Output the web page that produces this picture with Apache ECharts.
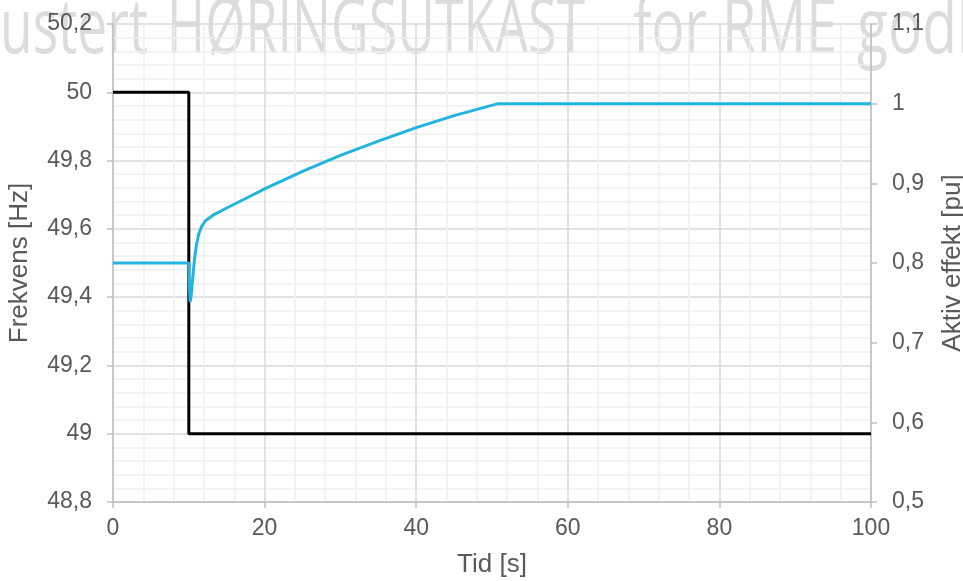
<!DOCTYPE html>
<html>
<head>
<meta charset="utf-8">
<script src="https://cdn.jsdelivr.net/npm/echarts@6/dist/echarts.min.js"></script>
<style>
html,body{margin:0;padding:0;background:#fff;}
#chart{width:963px;height:581px;}
</style>
</head>
<body>
<div id="chart"></div>
<script>
// ---- data ----
const timeTicks = [0, 20, 40, 60, 80, 100];
const freqTicks = [48.8, 49.0, 49.2, 49.4, 49.6, 49.8, 50.0, 50.2];
const powerTicks = [0.5, 0.6, 0.7, 0.8, 0.9, 1.0, 1.1];

const freqTime = [0, 10, 10, 100];
const freqValues = [50, 50, 49, 49];

const powerTime = [0, 10, 10.08, 10.17, 10.3, 10.5, 10.75, 11.0, 11.3, 11.7, 12.2, 13.2, 15, 17.5, 20, 25, 30, 35, 40, 45, 50.8, 100];
const powerValues = [0.8, 0.8, 0.77, 0.751, 0.758, 0.779, 0.805, 0.822, 0.836, 0.846, 0.853, 0.86, 0.869, 0.881, 0.893, 0.915, 0.935, 0.953, 0.97, 0.985, 1.0, 1.0];

const watermarkWords = ['ustert', 'HØRINGSUTKAST', 'for', 'RME', 'godk'];

// ---- helpers ----
const comma = v => String(+v.toFixed(2)).replace('.', ',');
const TXT = '#595959';
const FONT = '"Liberation Sans", Arial, sans-serif';

// watermark layout (left x, target width of fitted part)
const wmFontSize = 76;
const wmFont = wmFontSize + 'px "Open Sans", sans-serif';
const wmPlace = [
  {x: 0, fit: 'ustert', w: 148},
  {x: 167, fit: 'HØRINGSUTKAST', w: 418},
  {x: 633, fit: 'for', w: 74},
  {x: 722, fit: 'RME', w: 115},
  {x: 857, fit: 'god', w: 100}
];
const mctx = document.createElement('canvas').getContext('2d');
mctx.font = wmFont;
const graphics = watermarkWords.map((word, i) => {
  const p = wmPlace[i];
  const sx = p.w / mctx.measureText(p.fit).width;
  return {
    type: 'text', x: p.x, y: 31, scaleX: sx, z: -10, silent: true,
    style: {text: word, font: wmFont, fill: '#dcdcdc', verticalAlign: 'middle', align: 'left'}
  };
});

const chart = echarts.init(document.getElementById('chart'), null, {renderer: 'canvas'});
chart.setOption({
  animation: false,
  backgroundColor: '#fff',
  graphic: graphics,
  grid: {left: 113, right: 92, top: 24, bottom: 79, containLabel: false, outerBoundsMode: 'none'},
  xAxis: {
    type: 'value',
    min: timeTicks[0], max: timeTicks[timeTicks.length - 1], interval: timeTicks[1] - timeTicks[0],
    name: 'Tid [s]', nameLocation: 'middle', nameGap: 50,
    nameTextStyle: {fontFamily: FONT, fontSize: 26, color: TXT},
    axisLine: {show: true, lineStyle: {color: '#bfbfbf', width: 1.5}},
    axisTick: {show: true, length: 6, lineStyle: {color: '#bfbfbf', width: 1.5}},
    axisLabel: {fontFamily: FONT, fontSize: 23, color: TXT, margin: 15, formatter: comma},
    splitLine: {show: true, lineStyle: {color: '#d9d9d9', width: 1.5}},
    minorTick: {show: false, splitNumber: 5},
    minorSplitLine: {show: true, lineStyle: {color: '#efefef', width: 1.5}}
  },
  yAxis: [{
    type: 'value',
    min: freqTicks[0], max: freqTicks[freqTicks.length - 1], interval: 0.2,
    name: 'Frekvens [Hz]', nameLocation: 'middle', nameGap: 80, nameRotate: 90,
    nameTextStyle: {fontFamily: FONT, fontSize: 26, color: TXT},
    axisLine: {show: true, lineStyle: {color: '#bfbfbf', width: 1.5}},
    axisTick: {show: true, length: 6, lineStyle: {color: '#bfbfbf', width: 1.5}},
    axisLabel: {fontFamily: FONT, fontSize: 23, color: TXT, margin: 21, formatter: comma},
    splitLine: {show: true, lineStyle: {color: '#d9d9d9', width: 1.5}},
    minorTick: {show: false, splitNumber: 5},
    minorSplitLine: {show: true, lineStyle: {color: '#efefef', width: 1.5}}
  }, {
    type: 'value', position: 'right',
    min: powerTicks[0], max: powerTicks[powerTicks.length - 1], interval: 0.1,
    name: 'Aktiv effekt [pu]', nameLocation: 'middle', nameGap: 69, nameRotate: 90,
    nameTextStyle: {fontFamily: FONT, fontSize: 26, color: TXT},
    axisLine: {show: true, lineStyle: {color: '#bfbfbf', width: 1.5}},
    axisTick: {show: true, length: 6, lineStyle: {color: '#bfbfbf', width: 1.5}},
    axisLabel: {fontFamily: FONT, fontSize: 23, color: TXT, margin: 21, formatter: comma},
    splitLine: {show: false}
  }],
  series: [{
    type: 'line', yAxisIndex: 0, showSymbol: false, silent: true,
    data: freqTime.map((t, i) => [t, freqValues[i]]),
    lineStyle: {color: '#000', width: 3}, itemStyle: {color: '#000'}
  }, {
    type: 'line', yAxisIndex: 1, showSymbol: false, silent: true,
    data: powerTime.map((t, i) => [t, powerValues[i]]),
    lineStyle: {color: '#22b4e0', width: 3}, itemStyle: {color: '#22b4e0'}
  }]
});
</script>
</body>
</html>
